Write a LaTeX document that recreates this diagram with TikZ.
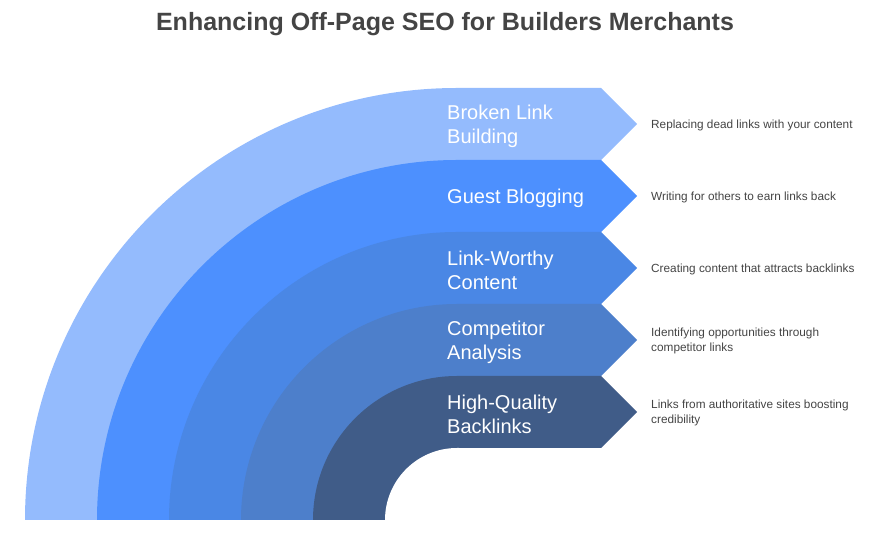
\documentclass[tikz,border=0pt]{standalone}
\usepackage{fontspec}
\setmainfont{Liberation Sans}
\usepackage{xcolor}
\usepackage{tikz}
\usetikzlibrary{positioning}
\definecolor{bandA}{HTML}{94BBFD}
\definecolor{bandB}{HTML}{4D90FE}
\definecolor{bandC}{HTML}{4A87E5}
\definecolor{bandD}{HTML}{4D7FCB}
\definecolor{bandE}{HTML}{405C88}
\definecolor{inkgray}{HTML}{444444}

\begin{document}
\begin{tikzpicture}[
    x=1pt, y=1pt,
    title/.style={font=\bfseries\fontsize{25}{30}\selectfont, text=inkgray},
    label/.style={anchor=west, inner sep=0pt, align=left, text=white, font=\fontsize{20}{24}\selectfont},
    desc/.style={anchor=west, inner sep=0pt, align=left, text=inkgray, font=\fontsize{11.8}{15}\selectfont}
]
\useasboundingbox (0,0) rectangle (890,545);
\node[title] (title) at (445,521) {Enhancing Off-Page SEO for Builders Merchants};
% bands, outermost first
\fill[bandA] (25,25) arc[start angle=180, end angle=90, radius=432] -- (601,457) -- (637,421) -- (601,385) -- (457,385) -- (457,25) -- cycle;
\fill[bandB] (97,25) arc[start angle=180, end angle=90, radius=360] -- (601,385) -- (637,349) -- (601,313) -- (457,313) -- (457,25) -- cycle;
\fill[bandC] (169,25) arc[start angle=180, end angle=90, radius=288] -- (601,313) -- (637,277) -- (601,241) -- (457,241) -- (457,25) -- cycle;
\fill[bandD] (241,25) arc[start angle=180, end angle=90, radius=216] -- (601,241) -- (637,205) -- (601,169) -- (457,169) -- (457,25) -- cycle;
\fill[bandE] (313,25) arc[start angle=180, end angle=90, radius=144] -- (601,169) -- (637,133) -- (601,97) -- (457,97) -- (457,25) -- cycle;
\fill[white] (385,25) arc[start angle=180, end angle=90, radius=72] -- (459,97) -- (459,24) -- (385,24) -- cycle;
% band labels
\node[label] (broken) at (447,419) {Broken Link\\Building};
\node[label] (guest) at (447,347) {Guest Blogging};
\node[label] (worthy) at (447,275) {Link-Worthy\\Content};
\node[label] (rival) at (447,203) {Competitor\\Analysis};
\node[label] (quality) at (447,131) {High-Quality\\Backlinks};
% descriptions
\node[desc] (brokendesc) at (651,420) {Replacing dead links with your content};
\node[desc] (guestdesc) at (651,348) {Writing for others to earn links back};
\node[desc] (worthydesc) at (651,276) {Creating content that attracts backlinks};
\node[desc] (rivaldesc) at (651,204) {Identifying opportunities through\\competitor links};
\node[desc] (qualitydesc) at (651,132) {Links from authoritative sites boosting\\credibility};
\end{tikzpicture}
\end{document}
